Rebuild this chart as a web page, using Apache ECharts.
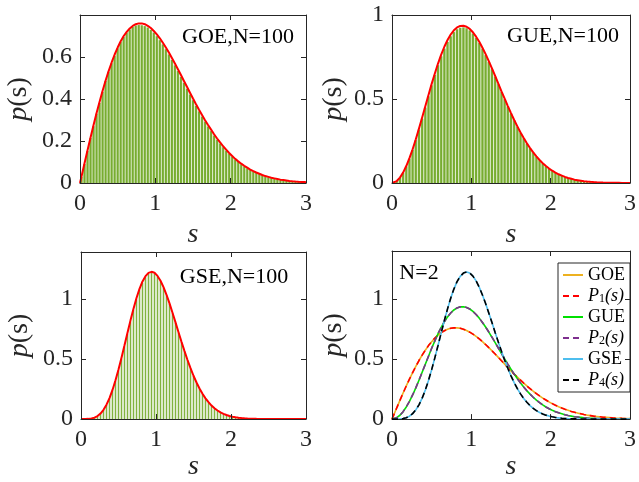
<!DOCTYPE html>
<html>
<head>
<meta charset="utf-8">
<script src="https://cdn.jsdelivr.net/npm/echarts@6/dist/echarts.min.js"></script>
<style>html,body{margin:0;padding:0;background:#fff}#c{width:639px;height:482px}</style>
</head>
<body>
<div id="c"></div>
<script>
// ---- data ----
var binWidth = 0.04;
var binCenters = [0.02,0.06,0.10,0.14,0.18,0.22,0.26,0.30,0.34,0.38,0.42,0.46,0.50,0.54,0.58,0.62,0.66,0.70,0.74,0.78,0.82,0.86,0.90,0.94,0.98,1.02,1.06,1.10,1.14,1.18,1.22,1.26,1.30,1.34,1.38,1.42,1.46,1.50,1.54,1.58,1.62,1.66,1.70,1.74,1.78,1.82,1.86,1.90,1.94,1.98,2.02,2.06,2.10,2.14,2.18,2.22,2.26,2.30,2.34,2.38,2.42,2.46,2.50,2.54,2.58,2.62,2.66,2.70,2.74,2.78,2.82,2.86,2.90,2.94,2.98];
var curveS = [0,0.02,0.06,0.10,0.14,0.18,0.22,0.26,0.30,0.34,0.38,0.42,0.46,0.50,0.54,0.58,0.62,0.66,0.70,0.74,0.78,0.82,0.86,0.90,0.94,0.98,1.02,1.06,1.10,1.14,1.18,1.22,1.26,1.30,1.34,1.38,1.42,1.46,1.50,1.54,1.58,1.62,1.66,1.70,1.74,1.78,1.82,1.86,1.90,1.94,1.98,2.02,2.06,2.10,2.14,2.18,2.22,2.26,2.30,2.34,2.38,2.42,2.46,2.50,2.54,2.58,2.62,2.66,2.70,2.74,2.78,2.82,2.86,2.90,2.94,2.98,3];

// histograms (N=100)
var histGOE = [0.028,0.090,0.152,0.214,0.270,0.330,0.381,0.434,0.486,0.530,0.570,0.606,0.641,0.671,0.695,0.716,0.731,0.743,0.750,0.752,0.751,0.747,0.740,0.729,0.716,0.699,0.680,0.660,0.637,0.612,0.586,0.560,0.533,0.505,0.477,0.449,0.421,0.394,0.367,0.341,0.316,0.292,0.269,0.247,0.226,0.206,0.188,0.170,0.154,0.139,0.125,0.112,0.100,0.089,0.079,0.070,0.062,0.054,0.048,0.042,0.036,0.031,0.027,0.023,0.020,0.017,0.014,0.012,0.010,0.008,0.007,0.006,0.005,0.004,0.003];
var histGUE = [0.001,0.011,0.031,0.060,0.098,0.144,0.197,0.255,0.318,0.383,0.449,0.516,0.581,0.643,0.701,0.754,0.800,0.840,0.873,0.898,0.915,0.924,0.926,0.921,0.908,0.889,0.864,0.834,0.799,0.761,0.720,0.677,0.633,0.588,0.543,0.499,0.455,0.413,0.373,0.335,0.299,0.266,0.234,0.206,0.180,0.156,0.135,0.116,0.099,0.084,0.071,0.060,0.050,0.042,0.034,0.028,0.023,0.018,0.015,0.012,0.009,0.007,0.005,0.004,0.003,0.002,0.002,0.001,0.001,0.001,0,0,0,0,0];
var histGSE = [0,0.0001,0.001,0.004,0.011,0.023,0.044,0.074,0.116,0.170,0.237,0.315,0.404,0.501,0.603,0.707,0.810,0.907,0.995,1.072,1.134,1.179,1.207,1.217,1.210,1.185,1.145,1.093,1.029,0.958,0.880,0.800,0.719,0.639,0.562,0.489,0.421,0.358,0.302,0.252,0.208,0.170,0.138,0.110,0.087,0.069,0.054,0.042,0.032,0.024,0.018,0.013,0.010,0.007,0.005,0.004,0.003,0.002,0.001,0.001,0,0,0,0,0,0,0,0,0,0,0,0,0,0,0];

// Wigner surmise curves P1, P2, P4 (read at curveS)
var curveP1 = [0,0.031,0.094,0.156,0.217,0.276,0.333,0.387,0.439,0.488,0.533,0.574,0.612,0.645,0.675,0.700,0.720,0.736,0.748,0.756,0.760,0.760,0.756,0.748,0.738,0.724,0.708,0.689,0.668,0.645,0.621,0.595,0.569,0.542,0.514,0.486,0.458,0.430,0.402,0.375,0.349,0.324,0.299,0.276,0.254,0.232,0.212,0.193,0.175,0.159,0.143,0.129,0.115,0.103,0.092,0.082,0.073,0.064,0.057,0.050,0.044,0.038,0.033,0.029,0.025,0.022,0.019,0.016,0.014,0.012,0.010,0.0086,0.0073,0.0062,0.0052,0.0044,0.0040];
var curveP2 = [0,0.0013,0.0116,0.032,0.062,0.101,0.148,0.201,0.260,0.324,0.390,0.457,0.524,0.590,0.652,0.711,0.764,0.811,0.851,0.884,0.909,0.926,0.935,0.936,0.930,0.917,0.897,0.871,0.841,0.805,0.767,0.725,0.682,0.637,0.592,0.546,0.502,0.458,0.416,0.375,0.337,0.301,0.268,0.236,0.208,0.182,0.158,0.137,0.118,0.101,0.086,0.073,0.062,0.052,0.044,0.036,0.030,0.025,0.020,0.017,0.014,0.011,0.0088,0.0071,0.0057,0.0045,0.0036,0.0028,0.0022,0.0017,0.0013,0.0010,0.0008,0.0006,0.0005,0.0004,0.0003];
var curveP4 = [0,0,0.0002,0.0011,0.0043,0.0113,0.0243,0.0455,0.0766,0.119,0.174,0.242,0.322,0.412,0.510,0.613,0.718,0.821,0.918,1.007,1.083,1.145,1.189,1.216,1.225,1.217,1.191,1.151,1.098,1.034,0.962,0.884,0.804,0.722,0.642,0.565,0.491,0.423,0.360,0.304,0.254,0.210,0.172,0.140,0.112,0.089,0.071,0.055,0.043,0.033,0.025,0.019,0.014,0.010,0.0077,0.0056,0.0040,0.0029,0.0020,0.0014,0.0010,0.0007,0.0005,0.0003,0.0002,0.0001,0.0001,0.0001,0,0,0,0,0,0,0,0,0];

// N=2 numerical curves (coincide with the surmise)
var n2GOE = curveP1, n2GUE = curveP2, n2GSE = curveP4;

var panelLabels = ['GOE,N=100','GUE,N=100','GSE,N=100','N=2'];
var xTicks = [0,1,2,3];
var yMax = [0.8, 1, 1.39, 1.4];
var yInterval = [0.2, 0.5, 0.5, 0.5];

// ---- chart ----
var FONT = '"Liberation Serif","Times New Roman",serif';
var AX = '#262626';
function pairs(xs, ys){ var o=[]; for (var i=0;i<xs.length;i++) o.push([xs[i], ys[i]]); return o; }

var grids = [
  {left:80, top:15, width:226, height:168},
  {left:392, top:15, width:241, height:168},
  {left:81, top:252, width:225, height:167},
  {left:392, top:251, width:241, height:169}
];
var yNameGap = [47, 44, 47, 44];
var xNameGap = [38, 38, 31, 31];

var xAxes = [], yAxes = [];
grids.forEach(function(g, i){
  var lineS = {show:true, onZero:false, lineStyle:{color:AX, width:1}};
  var tickS = {show:true, inside:true, length:5, lineStyle:{color:AX, width:1}};
  xAxes.push({gridIndex:i, type:'value', min:0, max:3, interval:1, position:'bottom', z:10,
    axisLine:lineS, axisTick:tickS, splitLine:{show:false},
    axisLabel:{fontFamily:FONT, fontSize:24, color:AX, margin:9},
    name:'s', nameLocation:'middle', nameGap:xNameGap[i],
    nameTextStyle:{fontFamily:FONT, fontSize:28, fontStyle:'italic', color:AX}});
  xAxes.push({gridIndex:i, type:'value', min:0, max:3, interval:1, position:'top', z:10,
    axisLine:lineS, axisTick:tickS, splitLine:{show:false}, axisLabel:{show:false}});
  yAxes.push({gridIndex:i, type:'value', min:0, max:yMax[i], interval:yInterval[i], position:'left', z:10,
    axisLine:lineS, axisTick:tickS, splitLine:{show:false},
    axisLabel:{fontFamily:FONT, fontSize:24, color:AX, margin:8, showMaxLabel: i===1,
      formatter:function(v){ return (Math.abs(v/yInterval[i]-Math.round(v/yInterval[i]))<1e-6) ? String(+v.toFixed(2)) : ''; }},
    name:'{i|p}{n|(s)}', nameLocation:'middle', nameGap:yNameGap[i],
    nameTextStyle:{color:AX, rich:{i:{fontFamily:FONT, fontSize:28, fontStyle:'italic', color:AX}, n:{fontFamily:FONT, fontSize:28, color:AX}}}});
  yAxes.push({gridIndex:i, type:'value', min:0, max:yMax[i], interval:yInterval[i], position:'right', z:10,
    axisLine:lineS, axisTick:tickS, splitLine:{show:false}, axisLabel:{show:false}});
});

function histRender(darkFrac, light){
  return function(params, api){
    var x = api.value(0), y = api.value(1);
    if (!(y > 0)) return;
    var a = api.coord([x - binWidth/2, y]);
    var b = api.coord([x + binWidth/2, 0]);
    var w = b[0]-a[0], h = b[1]-a[1];
    var dw = w*darkFrac;
    return {type:'group', children:[
      {type:'rect', shape:{x:a[0], y:a[1], width:w, height:h}, style:{fill:light}},
      {type:'rect', shape:{x:a[0]+(w-dw)/2, y:a[1], width:dw, height:h}, style:{fill:'#77ac30'}}
    ]};
  };
}

var series = [];
[histGOE, histGUE, histGSE].forEach(function(h, i){
  series.push({type:'custom', xAxisIndex:2*i, yAxisIndex:2*i,
    renderItem:histRender(i===2?0.3:0.66, i===2?'#dce9cb':'#d3e5bd'),
    data:pairs(binCenters, h), silent:true, z:2});
});
[curveP1, curveP2, curveP4].forEach(function(c, i){
  series.push({type:'line', xAxisIndex:2*i, yAxisIndex:2*i, data:pairs(curveS, c), symbol:'none',
    lineStyle:{color:'#ff0000', width:2}, z:5, silent:true});
});
var p4 = [
  {name:'GOE', d:n2GOE, c:'#EDB120', t:'solid'},
  {name:'P1', d:curveP1, c:'#FF0000', t:[6,4]},
  {name:'GUE', d:n2GUE, c:'#00E000', t:'solid'},
  {name:'P2', d:curveP2, c:'#7E2F8E', t:[6,4]},
  {name:'GSE', d:n2GSE, c:'#4DBEEE', t:'solid'},
  {name:'P4', d:curveP4, c:'#000000', t:[6,4]}
];
p4.forEach(function(s, k){
  series.push({type:'line', name:s.name, xAxisIndex:6, yAxisIndex:6, data:pairs(curveS, s.d), symbol:'none',
    color:s.c, lineStyle:{color:s.c, width:1.6, type:s.t}, z:5+k, silent:true});
});

var textPos = [[238,37],[563,36],[234,277],[419,273]];
var graphic = panelLabels.map(function(t, i){
  return {type:'text', x:textPos[i][0], y:textPos[i][1], z:20,
    style:{text:t, font:'22px ' + FONT, fill:'#000', align:'center', verticalAlign:'middle'}};
});

var chart = echarts.init(document.getElementById('c'), null, {renderer:'canvas'});
chart.setOption({
  animation:false,
  backgroundColor:'#fff',
  grid:grids.map(function(g){ return Object.assign({containLabel:false}, g); }),
  xAxis:xAxes, yAxis:yAxes, series:series, graphic:graphic,
  legend:{orient:'vertical', left:558, top:263, itemWidth:20, itemHeight:12, itemGap:3,
    padding:[3,5,3,4], borderColor:'#262626', borderWidth:1, backgroundColor:'#fff',
    itemStyle:{opacity:0},
    data:['GOE','P1','GUE','P2','GSE','P4'],
    formatter:function(n){ return n.charAt(0)==='P' ? '{i|P}{s|'+n.charAt(1)+'}{i|(s)}' : n; },
    textStyle:{fontFamily:FONT, fontSize:18, color:'#000', lineHeight:18,
      rich:{i:{fontFamily:FONT, fontSize:18, fontStyle:'italic', color:'#000', lineHeight:18},
            s:{fontFamily:FONT, fontSize:12, color:'#000', verticalAlign:'bottom', lineHeight:14}}}}
});
</script>
</body>
</html>
